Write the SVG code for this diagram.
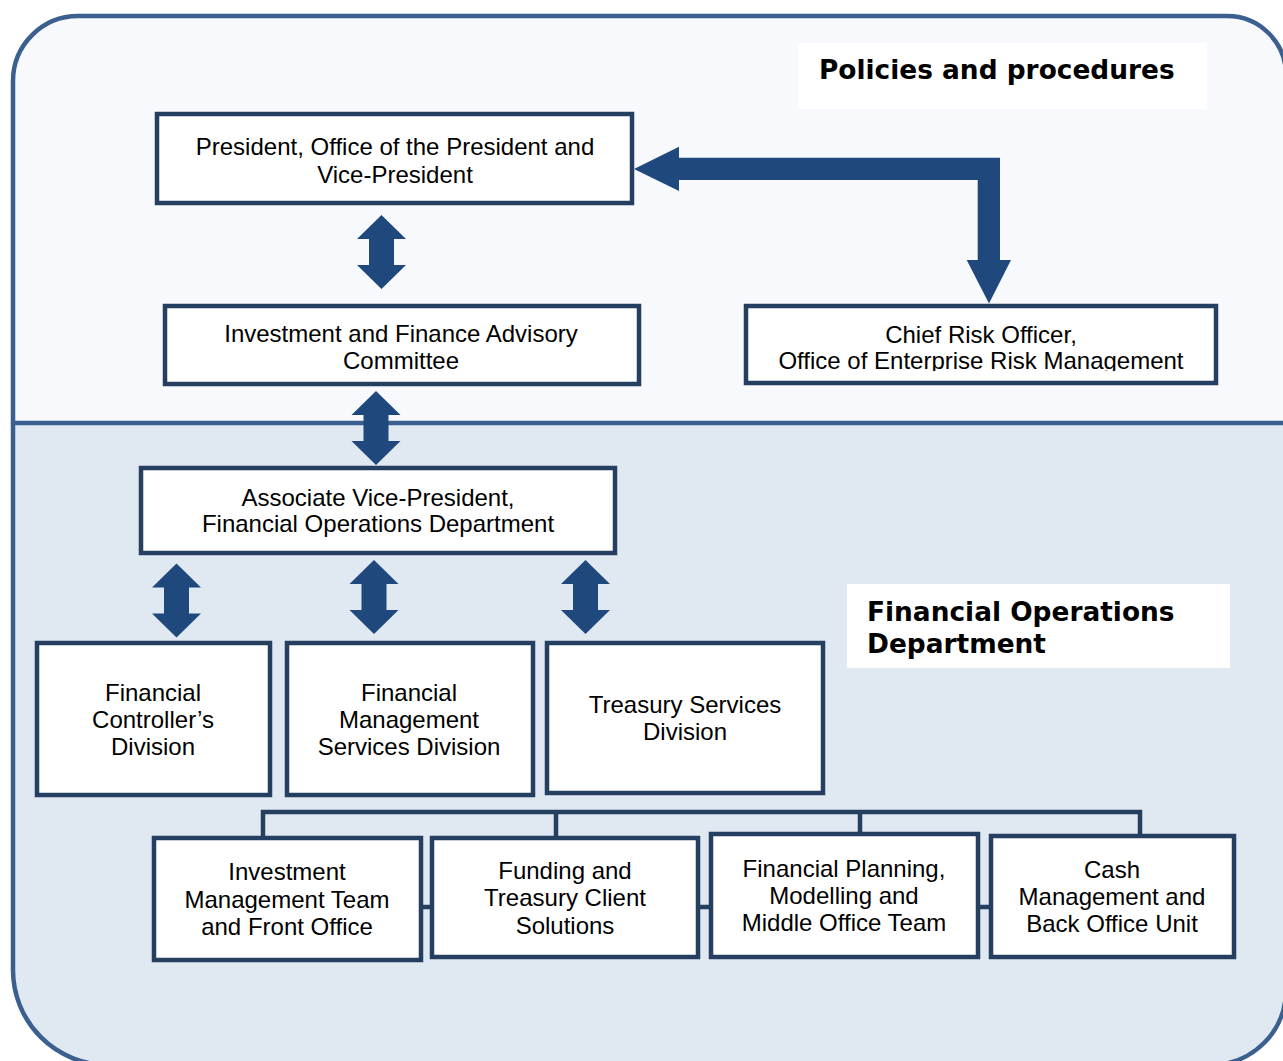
<svg xmlns="http://www.w3.org/2000/svg" width="1283" height="1061" viewBox="0 0 1283 1061">
<style>
.box{fill:#ffffff;stroke:#243f60;stroke-width:4.5}
.t{font-family:"Liberation Sans",Arial,sans-serif;font-size:24px;fill:#000;text-anchor:middle}
.h{font-family:"DejaVu Sans",Verdana,sans-serif;font-size:26.4px;font-weight:bold;fill:#000}
.lbl{fill:#ffffff}
.arr{fill:#1f497d}
.con{fill:none;stroke:#243f60;stroke-width:4.5}
</style>
<defs>
<path id="dbl" d="M0,0 L24.5,24 L12.5,24 L12.5,50 L24.5,50 L0,74 L-24.5,50 L-12.5,50 L-12.5,24 L-24.5,24 Z"/>
<clipPath id="croClip"><rect x="740" y="300" width="480" height="71"/></clipPath>
</defs>
<g id="background">
<path d="M13,423 L13,81 A65,65 0 0 1 78,16 L1227,16 A59,59 0 0 1 1286,75 L1286,423 Z" fill="#f7f9fd"/>
<path d="M13,423 L1286,423 L1286,990 A75,75 0 0 1 1211,1065 L108,1065 A95,95 0 0 1 13,970 Z" fill="#e0e8f2"/>
<path d="M13,423 L13,81 A65,65 0 0 1 78,16 L1227,16 A59,59 0 0 1 1286,75 L1286,990 A75,75 0 0 1 1211,1065 L108,1065 A95,95 0 0 1 13,970 Z" fill="none" stroke="#3b6090" stroke-width="4.5"/>
<line x1="13" y1="423" x2="1286" y2="423" stroke="#3b6090" stroke-width="4.5"/>
</g>
<g id="label-policies">
<rect class="lbl" x="798" y="43" width="409" height="66"/>
<text class="h" x="819" y="79">Policies and procedures</text>
</g>
<g id="label-fod">
<rect class="lbl" x="847" y="584" width="383" height="84"/>
<text class="h" x="867" y="621">Financial Operations</text>
<text class="h" x="867" y="653">Department</text>
</g>
<g id="connectors">
<path class="arr" d="M634,169 L679,146.7 L679,157.7 L1000,157.7 L1000,260 L1011,260 L989,303.5 L966.7,260 L977.7,260 L977.7,180 L679,180 L679,191 Z"/>
<use href="#dbl" class="arr" transform="translate(381.5,215)"/>
<use href="#dbl" class="arr" transform="translate(376,391)"/>
<use href="#dbl" class="arr" transform="translate(176.5,563.5)"/>
<use href="#dbl" class="arr" transform="translate(374,560)"/>
<use href="#dbl" class="arr" transform="translate(585.5,560)"/>
<path class="con" d="M263,838 L263,812 L1140,812 L1140,836"/>
<line class="con" x1="556" y1="812" x2="556" y2="838"/>
<line class="con" x1="860" y1="812" x2="860" y2="834"/>
<line class="con" x1="421" y1="907" x2="432" y2="907"/>
<line class="con" x1="698" y1="907" x2="711" y2="907"/>
<line class="con" x1="978" y1="907" x2="991" y2="907"/>
</g>
<g id="president">
<rect class="box" x="157" y="114" width="475" height="89"/>
<text class="t" x="395" y="155">President, Office of the President and</text>
<text class="t" x="395" y="183">Vice-President</text>
</g>
<g id="ifac">
<rect class="box" x="165" y="306" width="474" height="78"/>
<text class="t" x="401" y="342">Investment and Finance Advisory</text>
<text class="t" x="401" y="369">Committee</text>
</g>
<g id="cro">
<rect class="box" x="746" y="306" width="470" height="77"/>
<g clip-path="url(#croClip)">
<text class="t" x="981" y="343">Chief Risk Officer,</text>
<text class="t" x="981" y="369">Office of Enterprise Risk Management</text>
</g>
</g>
<g id="avp">
<rect class="box" x="141" y="468" width="474" height="85"/>
<text class="t" x="378" y="506">Associate Vice-President,</text>
<text class="t" x="378" y="532">Financial Operations Department</text>
</g>
<g id="fcd">
<rect class="box" x="37" y="643" width="233" height="152"/>
<text class="t" x="153" y="701">Financial</text>
<text class="t" x="153" y="728">Controller’s</text>
<text class="t" x="153" y="755">Division</text>
</g>
<g id="fmsd">
<rect class="box" x="287" y="643" width="246" height="152"/>
<text class="t" x="409" y="701">Financial</text>
<text class="t" x="409" y="728">Management</text>
<text class="t" x="409" y="755">Services Division</text>
</g>
<g id="tsd">
<rect class="box" x="547" y="643" width="276" height="150"/>
<text class="t" x="685" y="713">Treasury Services</text>
<text class="t" x="685" y="740">Division</text>
</g>
<g id="imt">
<rect class="box" x="154" y="838" width="267" height="122"/>
<text class="t" x="287" y="880">Investment</text>
<text class="t" x="287" y="908">Management Team</text>
<text class="t" x="287" y="935">and Front Office</text>
</g>
<g id="funding">
<rect class="box" x="432" y="838" width="266" height="119"/>
<text class="t" x="565" y="879">Funding and</text>
<text class="t" x="565" y="906">Treasury Client</text>
<text class="t" x="565" y="934">Solutions</text>
</g>
<g id="planning">
<rect class="box" x="711" y="834" width="267" height="123"/>
<text class="t" x="844" y="877">Financial Planning,</text>
<text class="t" x="844" y="904">Modelling and</text>
<text class="t" x="844" y="931">Middle Office Team</text>
</g>
<g id="cash">
<rect class="box" x="991" y="836" width="243" height="121"/>
<text class="t" x="1112" y="878">Cash</text>
<text class="t" x="1112" y="905">Management and</text>
<text class="t" x="1112" y="932">Back Office Unit</text>
</g>
</svg>
